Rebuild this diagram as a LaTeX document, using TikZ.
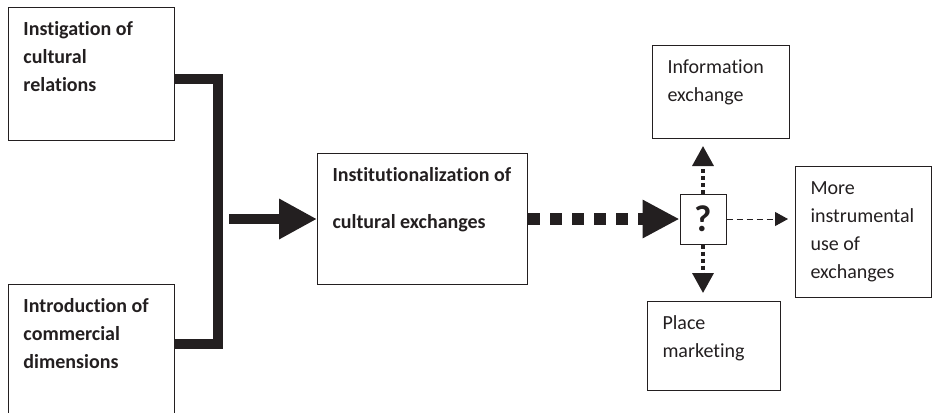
\documentclass[tikz,border=0pt]{standalone}
\usepackage{fontspec}
\setmainfont[Ligatures=NoCommon]{Carlito}
\usetikzlibrary{arrows.meta}
\definecolor{ink}{RGB}{35,31,32}
% box text: full width, full height, lines
\newcommand{\boxtext}[3]{\parbox[c][#2][t]{\dimexpr #1-22.5pt\relax}{\raggedright\vspace*{6.5pt}\strut #3}}

\begin{document}
\begin{tikzpicture}[x=0.75pt,y=-0.75pt,line join=miter,
	box/.style={draw=ink,line width=0.75pt,anchor=north west,inner xsep=11.25pt,inner ysep=0pt,text=ink,font=\fontsize{15pt}{21pt}\selectfont},
	boldbox/.style={box,font=\fontsize{15pt}{21pt}\selectfont\bfseries},
	heavy/.style={draw=ink,line width=7.5pt},
	bigtip/.style={-{Triangle[length=28.5pt,width=28.5pt]}},
	squares/.style={draw=ink,line width=9pt,dash pattern=on 9pt off 7.5pt,-{Triangle[length=27.75pt,width=27pt]}},
	dots/.style={draw=ink,line width=2.6pt,dash pattern=on 3pt off 2.25pt,-{Triangle[length=15pt,width=15.75pt]}},
	thin/.style={draw=ink,line width=0.75pt,dash pattern=on 4.5pt off 3pt,-{Triangle[length=9.75pt,width=10.5pt]}}]
		\path[use as bounding box,clip] (0,0) rectangle (934,412) ;
		\node[boldbox] (A) at (8,7) {\boxtext{124.5pt}{99.75pt}{Instigation of\\cultural\\relations}} ;
		\node[boldbox] (B) at (8,284) {\boxtext{124.5pt}{105pt}{Introduction of\\commercial\\dimensions}} ;
		\node[boldbox] (C) at (317,153) {\boxtext{157.5pt}{98.25pt}{Institutionalization of\\[14pt]cultural exchanges}} ;
		\node[box] (Info) at (652,45) {\boxtext{102.75pt}{69.75pt}{Information\\exchange}} ;
		\node[box] (Place) at (647,301) {\boxtext{99.75pt}{66.75pt}{Place\\marketing}} ;
		\node[box] (More) at (795,166) {\boxtext{102pt}{98.25pt}{More\\instrumental\\use of\\exchanges}} ;
		\node[draw=ink,line width=0.75pt,minimum width=34.5pt,minimum height=37.5pt,inner sep=0pt,text=ink,font=\fontsize{28pt}{28pt}\selectfont\bfseries] (Q) at (703,219) {?} ;
		\coordinate (J) at (218,219) ;
		\coordinate (S) at (229,219) ;
		\draw[heavy] ([yshift=-4.1pt]A.east) -| (J) |- ([yshift=8.25pt]B.east) ;
		\draw[heavy,bigtip] (S) -- (S -| C.west) ;
		\draw[squares] (C.east) -- (C.east -| Q.west) ;
		\draw[dots,shorten >=5.25pt] (Q.north) -- (Q.north |- Info.south) ;
		\draw[dots,shorten >=6pt] (Q.south) -- (Q.south |- Place.north) ;
		\draw[thin,shorten >=5.25pt] (Q.east) -- (Q.east -| More.west) ;
	\end{tikzpicture}
\end{document}
